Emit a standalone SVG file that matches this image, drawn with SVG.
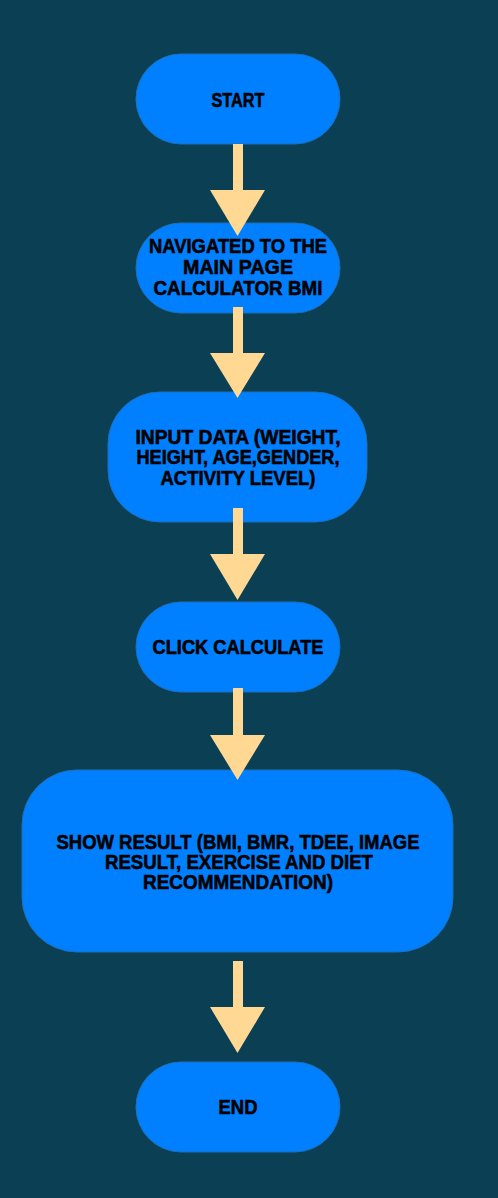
<svg xmlns="http://www.w3.org/2000/svg" width="498" height="1198" viewBox="0 0 498 1198">
<style>
.node{fill:#0080ff;stroke:#1f6fb8;stroke-width:1}
.t{font-family:"Liberation Sans Narrow","Liberation Sans",sans-serif;font-weight:bold;font-size:20px;fill:#000;stroke:#000;stroke-width:0.6;text-anchor:middle}
.arr{fill:#ffd993}
</style>
<rect width="498" height="1198" fill="#0a3f54"/>
<g id="start">
<rect class="node" x="136" y="54" width="204" height="90" rx="45"/>
<text class="t" x="238" y="107" textLength="53" lengthAdjust="spacingAndGlyphs">START</text>
</g>
<g id="navigate">
<rect class="node" x="136" y="223" width="204" height="90" rx="45"/>
<text class="t" x="238" y="253" textLength="178" lengthAdjust="spacingAndGlyphs">NAVIGATED TO THE</text>
<text class="t" x="238" y="274" textLength="110" lengthAdjust="spacingAndGlyphs">MAIN PAGE</text>
<text class="t" x="238" y="295" textLength="169" lengthAdjust="spacingAndGlyphs">CALCULATOR BMI</text>
</g>
<g id="input">
<rect class="node" x="108" y="392" width="259" height="130" rx="52"/>
<text class="t" x="238" y="444" textLength="205" lengthAdjust="spacingAndGlyphs">INPUT DATA (WEIGHT,</text>
<text class="t" x="238" y="464" textLength="203" lengthAdjust="spacingAndGlyphs">HEIGHT, AGE,GENDER,</text>
<text class="t" x="238" y="485" textLength="155" lengthAdjust="spacingAndGlyphs">ACTIVITY LEVEL)</text>
</g>
<g id="click">
<rect class="node" x="136" y="602" width="204" height="90" rx="45"/>
<text class="t" x="238" y="654" textLength="171" lengthAdjust="spacingAndGlyphs">CLICK CALCULATE</text>
</g>
<g id="result">
<rect class="node" x="22" y="770" width="431" height="182" rx="55"/>
<text class="t" x="238" y="849" textLength="363" lengthAdjust="spacingAndGlyphs">SHOW RESULT (BMI, BMR, TDEE, IMAGE</text>
<text class="t" x="239" y="869" textLength="268" lengthAdjust="spacingAndGlyphs">RESULT, EXERCISE AND DIET</text>
<text class="t" x="238" y="889" textLength="190" lengthAdjust="spacingAndGlyphs">RECOMMENDATION)</text>
</g>
<g id="end">
<rect class="node" x="136" y="1062" width="204" height="90" rx="45"/>
<text class="t" x="238" y="1114" textLength="39" lengthAdjust="spacingAndGlyphs">END</text>
</g>
<g id="connectors" class="arr">
<rect x="233" y="144" width="10" height="47"/>
<polygon points="210,190 265,190 237.5,236"/>
<rect x="233" y="307" width="10" height="47"/>
<polygon points="210,353 265,353 237.5,398"/>
<rect x="233" y="508" width="10" height="47"/>
<polygon points="210,554 265,554 237.5,600"/>
<rect x="233" y="688" width="10" height="48"/>
<polygon points="210,735 265,735 237.5,780"/>
<rect x="233" y="961" width="10" height="47"/>
<polygon points="210,1007 265,1007 237.5,1053"/>
</g>
</svg>
